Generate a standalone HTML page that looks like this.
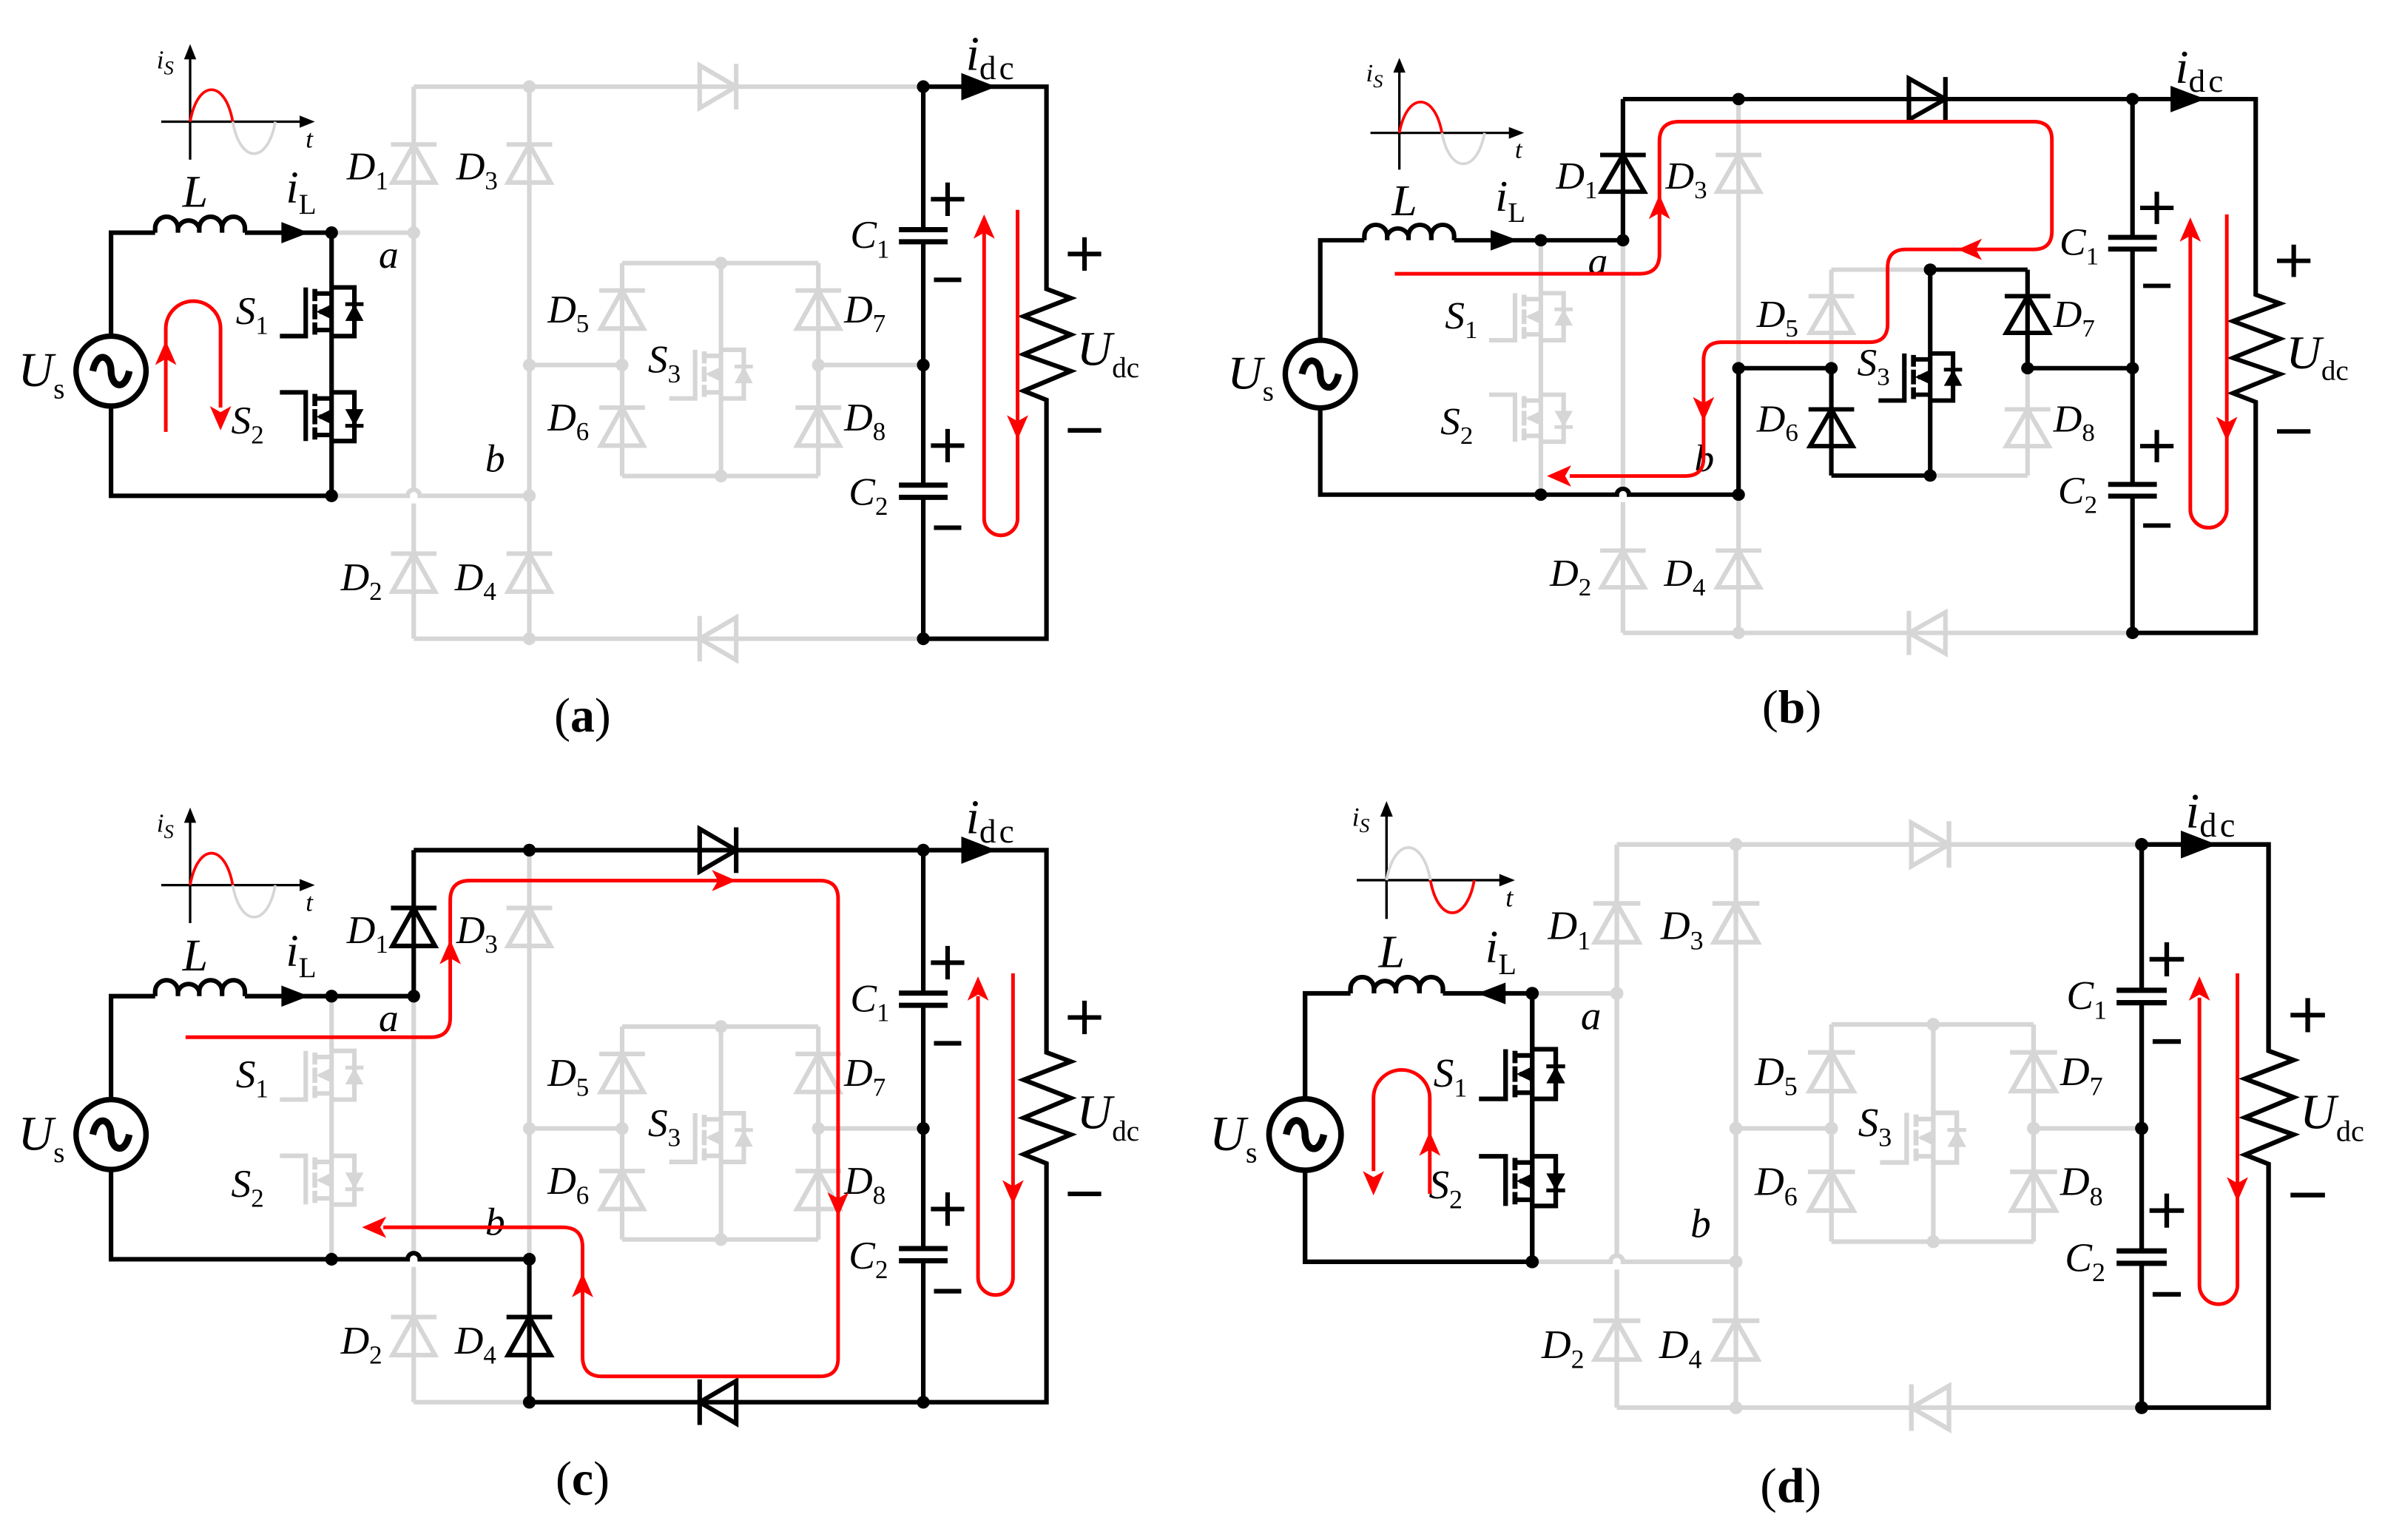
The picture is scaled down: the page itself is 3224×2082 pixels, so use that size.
<!DOCTYPE html>
<html><head><meta charset="utf-8">
<style>
html,body{margin:0;padding:0;background:#fff;}
svg{display:block;}
text{font-family:"Liberation Serif",serif;}
</style></head>
<body>
<svg id="s" xmlns="http://www.w3.org/2000/svg" width="3224" height="2082" viewBox="0 0 1568 1012.6" preserveAspectRatio="none"></svg>
<script>
const K='#000',G='#d6d6d6',R='#ff0000';
let out='';
function P(d,c,w,f){return `<path d="${d}" stroke="${c}" stroke-width="${w||3}" fill="${f||'none'}" stroke-linejoin="miter" stroke-linecap="butt"/>`;}
function dot(x,y,c){return `<circle cx="${x}" cy="${y}" r="4.2" fill="${c}"/>`;}
function dV(x,yb,c){return P(`M${x-15},${yb}H${x+15}`,c)+P(`M${x},${yb}L${x-14},${yb+25}H${x+14}Z`,c,3,'none');}
function dH(xb,y,dir,c){const b=xb-dir*24;return P(`M${xb},${y-15}V${y+15}`,c)+P(`M${xb},${y}L${b},${y-14}V${y+14}Z`,c);}
function mos(x,y0,c,gateTop,diodeUp){
 // box y0..y0+32
 const t=y0,b=y0+32,m=y0+16;let s='';
 s+=P(`M${x},${t}H${x+15}V${b}H${x}`,c);
 s+=P(`M${x-11},${t+1}V${t+9}M${x-11},${m-5}V${m+5}M${x-11},${b-9}V${b-1}`,c,3.2);
 s+=P(`M${x-11},${t+4}H${x}M${x-11},${b-4}H${x}`,c,3);
 s+=`<path d="M${x-10},${m}L${x},${m-5}V${m+5}Z" fill="${c}"/>`;
 s+=P(`M${x-8},${m}H${x}`,c,3);
 s+=P(gateTop?`M${x-17},${b}V${t}H${x-34}`:`M${x-17},${t}V${b}H${x-34}`,c);
 if(diodeUp){s+=P(`M${x+9},${m-5}H${x+21}`,c,2.5)+`<path d="M${x+15},${m-5}L${x+9},${m+6}H${x+21}Z" fill="${c}"/>`;}
 else{s+=P(`M${x+9},${m+6}H${x+21}`,c,2.5)+`<path d="M${x+15},${m+6}L${x+9},${m-5}H${x+21}Z" fill="${c}"/>`;}
 return s;
}
function lbl(x,y,main,sub,fs,ss,it){fs=fs||26;ss=ss||17;
 return `<text x="${x}" y="${y}" font-size="${fs}" font-style="${it===false?'normal':'italic'}">${main}<tspan font-size="${ss}" font-style="normal" dy="${fs*0.25}">${sub||''}</tspan></text>`;}
function arrowR(x,y,dir){// tip at x,y, dir: 'u','d','l','r'
 const L=16,W=7;let p;
 if(dir=='u')p=`M${x},${y}L${x-W},${y+L}L${x},${y+L-4}L${x+W},${y+L}Z`;
 if(dir=='d')p=`M${x},${y}L${x-W},${y-L}L${x},${y-L+4}L${x+W},${y-L}Z`;
 if(dir=='l')p=`M${x},${y}L${x+L},${y-W}L${x+L-4},${y}L${x+L},${y+W}Z`;
 if(dir=='r')p=`M${x},${y}L${x-L},${y-W}L${x-L+4},${y}L${x-L},${y+W}Z`;
 return `<path d="${p}" fill="${R}"/>`;}
function rp(d){return P(d,R,2.4);}

function panel(tf,st,cap){
 const col=k=>st.k.includes(k)?K:G;
 let g=[],k=[];
 const add=(key,s)=>{(col(key)==K?k:g).push(s);};
 // waveform
 let w='';
 w+=P('M125,105V36',K,1.6)+'<path d="M125,29L121,39H129Z" fill="#000"/>';
 w+=P('M106,80H200',K,1.6)+'<path d="M207,80L197,76V84Z" fill="#000"/>';
 w+=P('M125,80C130,52 148,52 153,80',st.wp,1.8)+P('M153,80C158,108 176,108 181,80',st.wn,1.8);
 w+=`<text x="103" y="45" font-size="17" font-style="italic">i<tspan font-size="13" dy="4">S</tspan></text>`;
 w+=`<text x="201" y="97" font-size="17" font-style="italic">t</tspan></text>`;
 // always black: source loop, caps, right
 let A='';
 A+=P('M102,153H73V221M73,267V326H218',K);
 A+=P('M161,153H218',K);
 A+=`<circle cx="73" cy="244" r="23" stroke="#000" stroke-width="3.6" fill="none"/>`;
 A+=P('M61,244C64,230 73,234 73,244C73,254 82,258 85,244',K,4.5);
 // inductor
 A+=P('M102,153V150A7.4,7.4 0 0 1 117,150V153M117,153V150A7.4,7.4 0 0 1 131,150V153M131,153V150A7.4,7.4 0 0 1 146,150V153M146,153V150A7.4,7.4 0 0 1 161,150V153',K,3);
 if(st.ilRev)A+=`<path d="M183,153L201,146V160Z" fill="#000"/>`;
 else A+=`<path d="M203,153L185,146V160Z" fill="#000"/>`;
 // cap column
 A+=P('M607,57V151M607,159V319M607,327V420',K);
 A+=P('M591,151H623M591,159H623M591,319H623M591,327H623',K,3.4);
 A+=P('M607,57H688V190L704,196L673,208L704,220L673,233L704,244L673,257L688,263V420H607',K);
 A+=`<path d="M655,57L632,48V66Z" fill="#000"/>`;
 A+=dot(607,57,K)+dot(607,240,K)+dot(607,420,K);
 A+=P('M612,131H634M623,120V142M614,184H632M612,293H634M623,282V304M614,347H632',K,3);
 A+=P('M702,167H724M713,156V178M702,283H724',K,3);
 // components
 add('Scol',P('M218,153V326',col('Scol'))+mos(218,189,col('Scol'),false,true)+mos(218,258,col('Scol'),true,false));
 add('aW',P('M218,153H272',col('aW')));
 add('bW',P('M218,326H268A4,4 0 0 1 276,326H348',col('bW')));
 add('c1u',P('M272,57V153',col('c1u'))+dV(272,95,col('c1u')));
 add('c1d',P('M272,153V321M272,331V420',col('c1d'))+dV(272,364,col('c1d')));
 add('c3u',P('M348,57V240',col('c3u'))+dV(348,95,col('c3u')));
 add('c3m',P('M348,240V326',col('c3m')));
 add('c3d',P('M348,326V420',col('c3d'))+dV(348,364,col('c3d')));
 add('tL',P('M272,57H348',col('tL')));
 add('tR',P('M348,57H607',col('tR'))+dH(484,57,1,col('tR')));
 add('bL',P('M272,420H348',col('bL')));
 add('bR',P('M348,420H607',col('bR'))+dH(460,420,-1,col('bR')));
 add('mL',P('M348,240H409',col('mL')));
 add('mR',P('M538,240H607',col('mR')));
 add('b5',P('M409,173V240',col('b5'))+dV(409,191,col('b5')));
 add('b6',P('M409,240V313',col('b6'))+dV(409,268,col('b6')));
 add('b7',P('M538,173V240',col('b7'))+dV(538,191,col('b7')));
 add('b8',P('M538,240V313',col('b8'))+dV(538,268,col('b8')));
 add('btL',P('M409,173H474',col('btL')));
 add('btR',P('M474,173H538',col('btR')));
 add('bbL',P('M409,313H474',col('bbL')));
 add('bbR',P('M474,313H538',col('bbR')));
 add('s3',P('M474,173V313',col('s3'))+mos(474,230,col('s3'),false,true));
 const nodes={n1:[218,153],n2:[218,326],n3:[272,153],n4:[348,57],n5:[348,240],n6:[348,326],n7:[348,420],n8:[409,240],n9:[538,240],n10:[474,173],n11:[474,313]};
 let nd='';for(const [kk,v] of Object.entries(nodes)){nd+=dot(v[0],v[1],st.n.includes(kk)?K:G);}
 let T='';
 T+=`<text x="120" y="136" font-size="30" font-style="italic">L</text>`;
 T+=lbl(188,133,'i','L',30,19);
 T+=`<text x="249" y="176" font-size="26" font-style="italic">a</text>`;
 T+=`<text x="319" y="310" font-size="26" font-style="italic">b</text>`;
 T+=lbl(228,118,'D','1')+lbl(300,118,'D','3')+lbl(224,388,'D','2')+lbl(299,388,'D','4');
 T+=lbl(360,212,'D','5')+lbl(360,283,'D','6')+lbl(555,212,'D','7')+lbl(555,283,'D','8');
 T+=lbl(426,245,'S','3')+lbl(155,213,'S','1')+lbl(152,285,'S','2');
 T+=lbl(559,163,'C','1')+lbl(558,332,'C','2');
 T+=lbl(12,254,'U','s',32,19)+lbl(708,240,'U','dc',32,19);
 T+=`<text x="635" y="46" font-size="32" font-style="italic">i<tspan font-size="22" font-style="normal" dy="6" letter-spacing="2">dc</tspan></text>`;
 T+=`<text x="383" y="481" font-size="32" text-anchor="middle">(<tspan font-weight="bold">${cap}</tspan>)</text>`;
 return `<g transform="${tf}">${w}${g.join('')}${nd.split('<circle').filter(x=>x.includes(G)).map(x=>'<circle'+x).join('')}${k.join('')}${nd.split('<circle').filter(x=>x.includes('"#000"')).map(x=>'<circle'+x).join('')}${A}${T}</g>`;
}
out+=panel('',{k:['Scol'],n:['n1','n2'],wp:R,wn:G},'a');
out+=panel('translate(868,245) scale(1,0.967) translate(-73,-243)',{k:['aW','bW','c1u','tL','tR','c3m','mL','b6','bbL','s3','btR','b7','mR'],n:['n1','n2','n3','n4','n5','n6','n8','n9','n10','n11'],wp:R,wn:G},'b');
out+=panel('translate(0,502)',{k:['aW','bW','c1u','tL','tR','c3d','bR'],n:['n1','n2','n3','n4','n6','n7'],wp:R,wn:G},'c');
out+=panel('translate(858,745) scale(1.03,1.02) translate(-73,-243)',{k:['Scol'],n:['n1','n2'],wp:G,wn:R,ilRev:true},'d');
// red paths
// (a)
out+=rp('M109,284V216A18,18 0 0 1 145,216V268')+arrowR(109,224,'u')+arrowR(145,283,'d');
out+=rp('M669,138V341A11,11 0 0 1 647,341V152')+arrowR(647,141,'u')+arrowR(669,289,'d');
// (b)
out+=rp('M917,180H1078Q1091,180 1091,167V93Q1091,80 1104,80H1337Q1349,80 1349,92V152Q1349,164 1337,164H1253Q1241,164 1241,176V213Q1241,225 1229,225H1132Q1120,225 1120,237V301Q1120,313 1108,313H1032');
out+=arrowR(1091,128,'u')+arrowR(1287,164,'l')+arrowR(1120,277,'d')+arrowR(1017,313,'l');
out+=rp('M1464,141V335A12,12 0 0 1 1440,335V155')+arrowR(1440,143,'u')+arrowR(1464,290,'d');
// (c)
out+=rp('M122,682H283Q296,682 296,669V592Q296,579 309,579H539Q551,579 551,591V893Q551,905 539,905H396Q383,905 383,892V820Q383,807 370,807H252');
out+=arrowR(296,618,'u')+arrowR(484,579,'r')+arrowR(551,800,'d')+arrowR(383,837,'u')+arrowR(238,807,'l');
out+=rp('M666,640V840A11.5,11.5 0 0 1 643,840V655')+arrowR(643,642,'u')+arrowR(666,792,'d');
// (d)
out+=rp('M903,770V722A18.5,18.5 0 0 1 940,722V785')+arrowR(903,786,'d')+arrowR(940,744,'u');
out+=rp('M1471,640V845A12.5,12.5 0 0 1 1446,845V656')+arrowR(1446,642,'u')+arrowR(1471,790,'d');
document.getElementById('s').innerHTML=out;
</script>
</body></html>
